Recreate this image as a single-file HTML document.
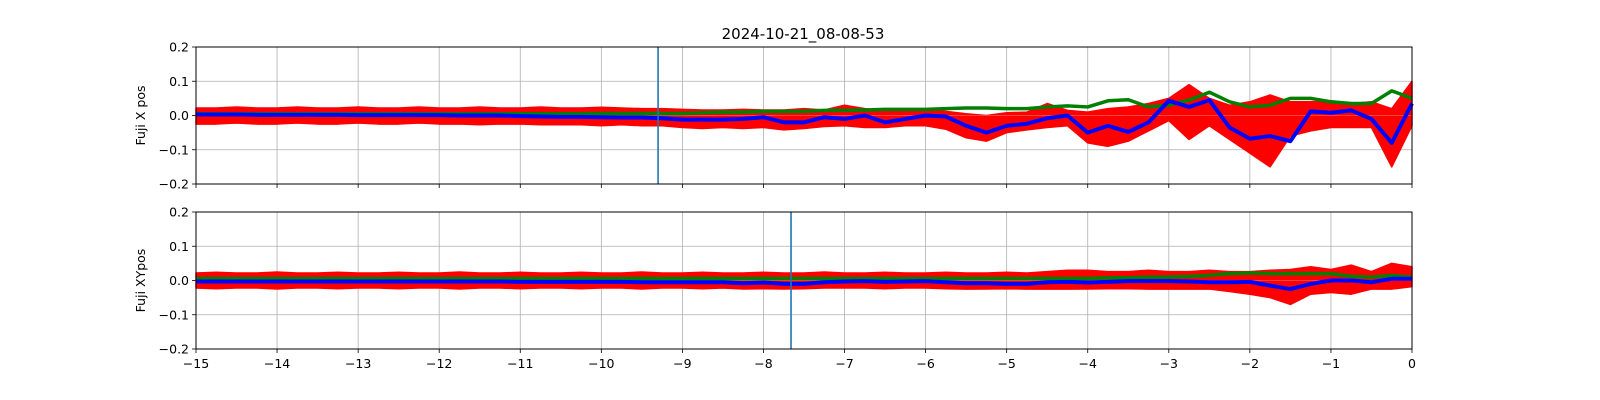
<!DOCTYPE html>
<html><head><meta charset="utf-8"><style>
body{margin:0;background:#fff}
svg{display:block;font-family:"DejaVu Sans","Liberation Sans",sans-serif}
</style></head><body>
<svg id="chart" width="1600" height="400"></svg>
<script>
const xs=[];for(let i=0;i<=60;i++)xs.push(-15+i*0.25);
const xTicks=[-15,-14,-13,-12,-11,-10,-9,-8,-7,-6,-5,-4,-3,-2,-1,0];
const yTicks=[-0.2,-0.1,0.0,0.1,0.2];
const topBlue=[0.003,0.003,0.003,0.002,0.002,0.002,0.002,0.002,0.001,0.001,0.001,0.001,0.001,0,0,0,-0.002,-0.003,-0.004,-0.004,-0.005,-0.006,-0.006,-0.008,-0.012,
-0.012,-0.012,-0.01,-0.005,-0.02,-0.02,-0.005,-0.01,0.0,-0.02,-0.01,0.0,-0.003,-0.03,-0.05,-0.03,-0.024,-0.008,0.0,-0.05,-0.03,-0.048,-0.02,0.043,0.025,0.045,-0.035,-0.068,-0.06,-0.075,0.012,0.008,0.015,-0.01,-0.08,0.035];
const topGreen=[0.005,0.005,0.005,0.005,0.005,0.005,0.005,0.005,0.005,0.005,0.005,0.005,0.005,0.005,0.005,0.005,0.005,0.005,0.005,0.005,0.006,0.006,0.006,0.006,0.006,
0.008,0.01,0.01,0.012,0.012,0.012,0.015,0.015,0.016,0.018,0.018,0.018,0.02,0.022,0.022,0.02,0.02,0.025,0.028,0.025,0.043,0.046,0.025,0.03,0.045,0.068,0.04,0.025,0.03,0.05,0.05,0.04,0.035,0.035,0.072,0.05];
const topRedHi=[0.022,0.022,0.025,0.022,0.022,0.025,0.022,0.022,0.025,0.022,0.022,0.025,0.022,0.022,0.025,0.022,0.022,0.025,0.022,0.022,0.024,0.022,0.02,0.02,0.018,
0.016,0.016,0.018,0.016,0.016,0.02,0.016,0.03,0.02,0.014,0.014,0.018,0.012,0.005,0.0,0.008,0.01,0.035,0.015,0.01,0.02,0.025,0.035,0.05,0.09,0.05,0.03,0.04,0.06,0.04,0.04,0.04,0.035,0.04,0.02,0.1];
const topRedLo=[-0.025,-0.025,-0.022,-0.025,-0.025,-0.022,-0.025,-0.025,-0.022,-0.025,-0.025,-0.022,-0.025,-0.025,-0.027,-0.025,-0.025,-0.027,-0.027,-0.027,-0.03,-0.027,-0.03,-0.03,-0.035,
-0.038,-0.035,-0.038,-0.035,-0.042,-0.038,-0.032,-0.03,-0.035,-0.035,-0.03,-0.03,-0.04,-0.065,-0.075,-0.05,-0.042,-0.035,-0.03,-0.08,-0.09,-0.075,-0.045,-0.015,-0.07,-0.03,-0.07,-0.11,-0.15,-0.06,-0.045,-0.035,-0.035,-0.035,-0.15,-0.03];
const botBlue=[-0.003,-0.003,-0.003,-0.003,-0.003,-0.003,-0.003,-0.003,-0.003,-0.003,-0.003,-0.003,-0.003,-0.003,-0.003,-0.003,-0.004,-0.004,-0.004,-0.004,-0.004,-0.004,-0.005,-0.005,-0.005,
-0.005,-0.005,-0.008,-0.006,-0.01,-0.01,-0.005,-0.003,-0.002,-0.004,-0.003,-0.002,-0.005,-0.008,-0.008,-0.01,-0.01,-0.005,-0.004,-0.006,-0.004,-0.002,-0.002,-0.002,-0.003,-0.005,-0.005,-0.004,-0.015,-0.025,-0.01,0.0,0.0,-0.005,0.005,0.005];
const botGreen=[0.006,0.006,0.006,0.006,0.006,0.006,0.006,0.006,0.006,0.006,0.006,0.006,0.006,0.006,0.006,0.006,0.006,0.006,0.006,0.006,0.006,0.006,0.006,0.006,0.006,
0.006,0.006,0.006,0.006,0.006,0.006,0.006,0.006,0.006,0.006,0.006,0.006,0.006,0.006,0.006,0.006,0.006,0.006,0.006,0.006,0.008,0.008,0.01,0.01,0.012,0.015,0.02,0.022,0.02,0.02,0.02,0.02,0.012,0.01,0.015,0.01];
const botRedHi=[0.022,0.024,0.022,0.022,0.025,0.022,0.022,0.024,0.022,0.022,0.024,0.022,0.022,0.025,0.022,0.022,0.024,0.022,0.022,0.024,0.022,0.022,0.025,0.022,0.022,
0.024,0.022,0.022,0.024,0.022,0.022,0.025,0.022,0.022,0.024,0.022,0.022,0.024,0.022,0.022,0.024,0.022,0.026,0.03,0.03,0.026,0.026,0.03,0.026,0.026,0.03,0.026,0.026,0.03,0.032,0.04,0.032,0.045,0.026,0.05,0.04];
const botRedLo=[-0.022,-0.024,-0.022,-0.022,-0.025,-0.022,-0.022,-0.024,-0.022,-0.022,-0.024,-0.022,-0.022,-0.025,-0.022,-0.022,-0.024,-0.022,-0.022,-0.024,-0.022,-0.022,-0.025,-0.022,-0.022,
-0.024,-0.022,-0.025,-0.024,-0.025,-0.024,-0.022,-0.022,-0.022,-0.024,-0.022,-0.022,-0.024,-0.025,-0.025,-0.024,-0.025,-0.025,-0.025,-0.025,-0.024,-0.024,-0.025,-0.025,-0.025,-0.025,-0.032,-0.04,-0.05,-0.07,-0.04,-0.035,-0.04,-0.025,-0.025,-0.018];
const panels=[{top:47,h:137,blue:topBlue,green:topGreen,hi:topRedHi,lo:topRedLo,vline:-9.3,label:"Fuji X pos",name:"top",showX:false},
{top:212,h:137,blue:botBlue,green:botGreen,hi:botRedHi,lo:botRedLo,vline:-7.66,label:"Fuji XYpos",name:"bottom",showX:true}];
const NS="http://www.w3.org/2000/svg",svg=document.getElementById('chart');
const L=196,R=1412;
const sx=v=>L+(v+15)/15*(R-L);
function mk(t,a,p){const e=document.createElementNS(NS,t);for(const k in a)e.setAttribute(k,a[k]);(p||svg).appendChild(e);return e;}
const title=mk('text',{x:803,y:39,'text-anchor':'middle','font-size':15});title.textContent="2024-10-21_08-08-53";


panels.forEach(P=>{
 const sy=v=>P.top+P.h/2-v/0.4*P.h;
 const g=mk('g',{});
 
 
 xTicks.forEach(t=>{const l=mk('line',{x1:sx(t),x2:sx(t),y1:P.top,y2:P.top+P.h,stroke:'#b0b0b0','stroke-width':0.8},g);
  
  
  mk('line',{x1:sx(t),x2:sx(t),y1:P.top+P.h,y2:P.top+P.h+4,stroke:'#000','stroke-width':0.8},g);
  if(P.showX){const tx=mk('text',{x:sx(t),y:P.top+P.h+19,'text-anchor':'middle','font-size':12.5},g);tx.textContent=(t<0?'\u2212'+(-t):t);
   
   }
 });
 yTicks.forEach(t=>{const y=sy(t);const l=mk('line',{x1:L,x2:R,y1:y,y2:y,stroke:'#b0b0b0','stroke-width':0.8},g);
  
  
  mk('line',{x1:L-4,x2:L,y1:y,y2:y,stroke:'#000','stroke-width':0.8},g);
  const tx=mk('text',{x:L-7,y:y+4.5,'text-anchor':'end','font-size':12.5},g);tx.textContent=(t<0?'\u2212':'')+Math.abs(t).toFixed(1);
  
  });
 let pts=xs.map((x,i)=>sx(x)+','+sy(P.hi[i]));
 for(let i=xs.length-1;i>=0;i--)pts.push(sx(xs[i])+','+sy(P.lo[i]));
 const band=mk('polygon',{points:pts.join(' '),fill:'#ff0000',stroke:'#ff0000','stroke-width':1.5,'stroke-linejoin':'round'},g);
 
 
 mk('line',{x1:L,x2:R,y1:sy(0),y2:sy(0),stroke:'#ff4040','stroke-width':1},g);
 const gl=mk('polyline',{points:xs.map((x,i)=>sx(x)+','+sy(P.green[i])).join(' '),fill:'none',stroke:'#008000','stroke-width':3.5,'stroke-linejoin':'round'},g);
 
 
 const bl=mk('polyline',{points:xs.map((x,i)=>sx(x)+','+sy(P.blue[i])).join(' '),fill:'none',stroke:'#0000ff','stroke-width':4,'stroke-linejoin':'round'},g);
 
 
 const vl=mk('line',{x1:sx(P.vline),x2:sx(P.vline),y1:P.top,y2:P.top+P.h,stroke:'#1f77b4','stroke-width':1.6},g);
 
 
 const fr=mk('rect',{x:L,y:P.top,width:R-L,height:P.h,fill:'none',stroke:'#000','stroke-width':1},g);
 
 
 const yl=mk('text',{x:0,y:0,'text-anchor':'middle','font-size':12.5,transform:`translate(145,${P.top+P.h/2}) rotate(-90)`},g);yl.textContent=P.label;
 
 
});
</script>
</body></html>
